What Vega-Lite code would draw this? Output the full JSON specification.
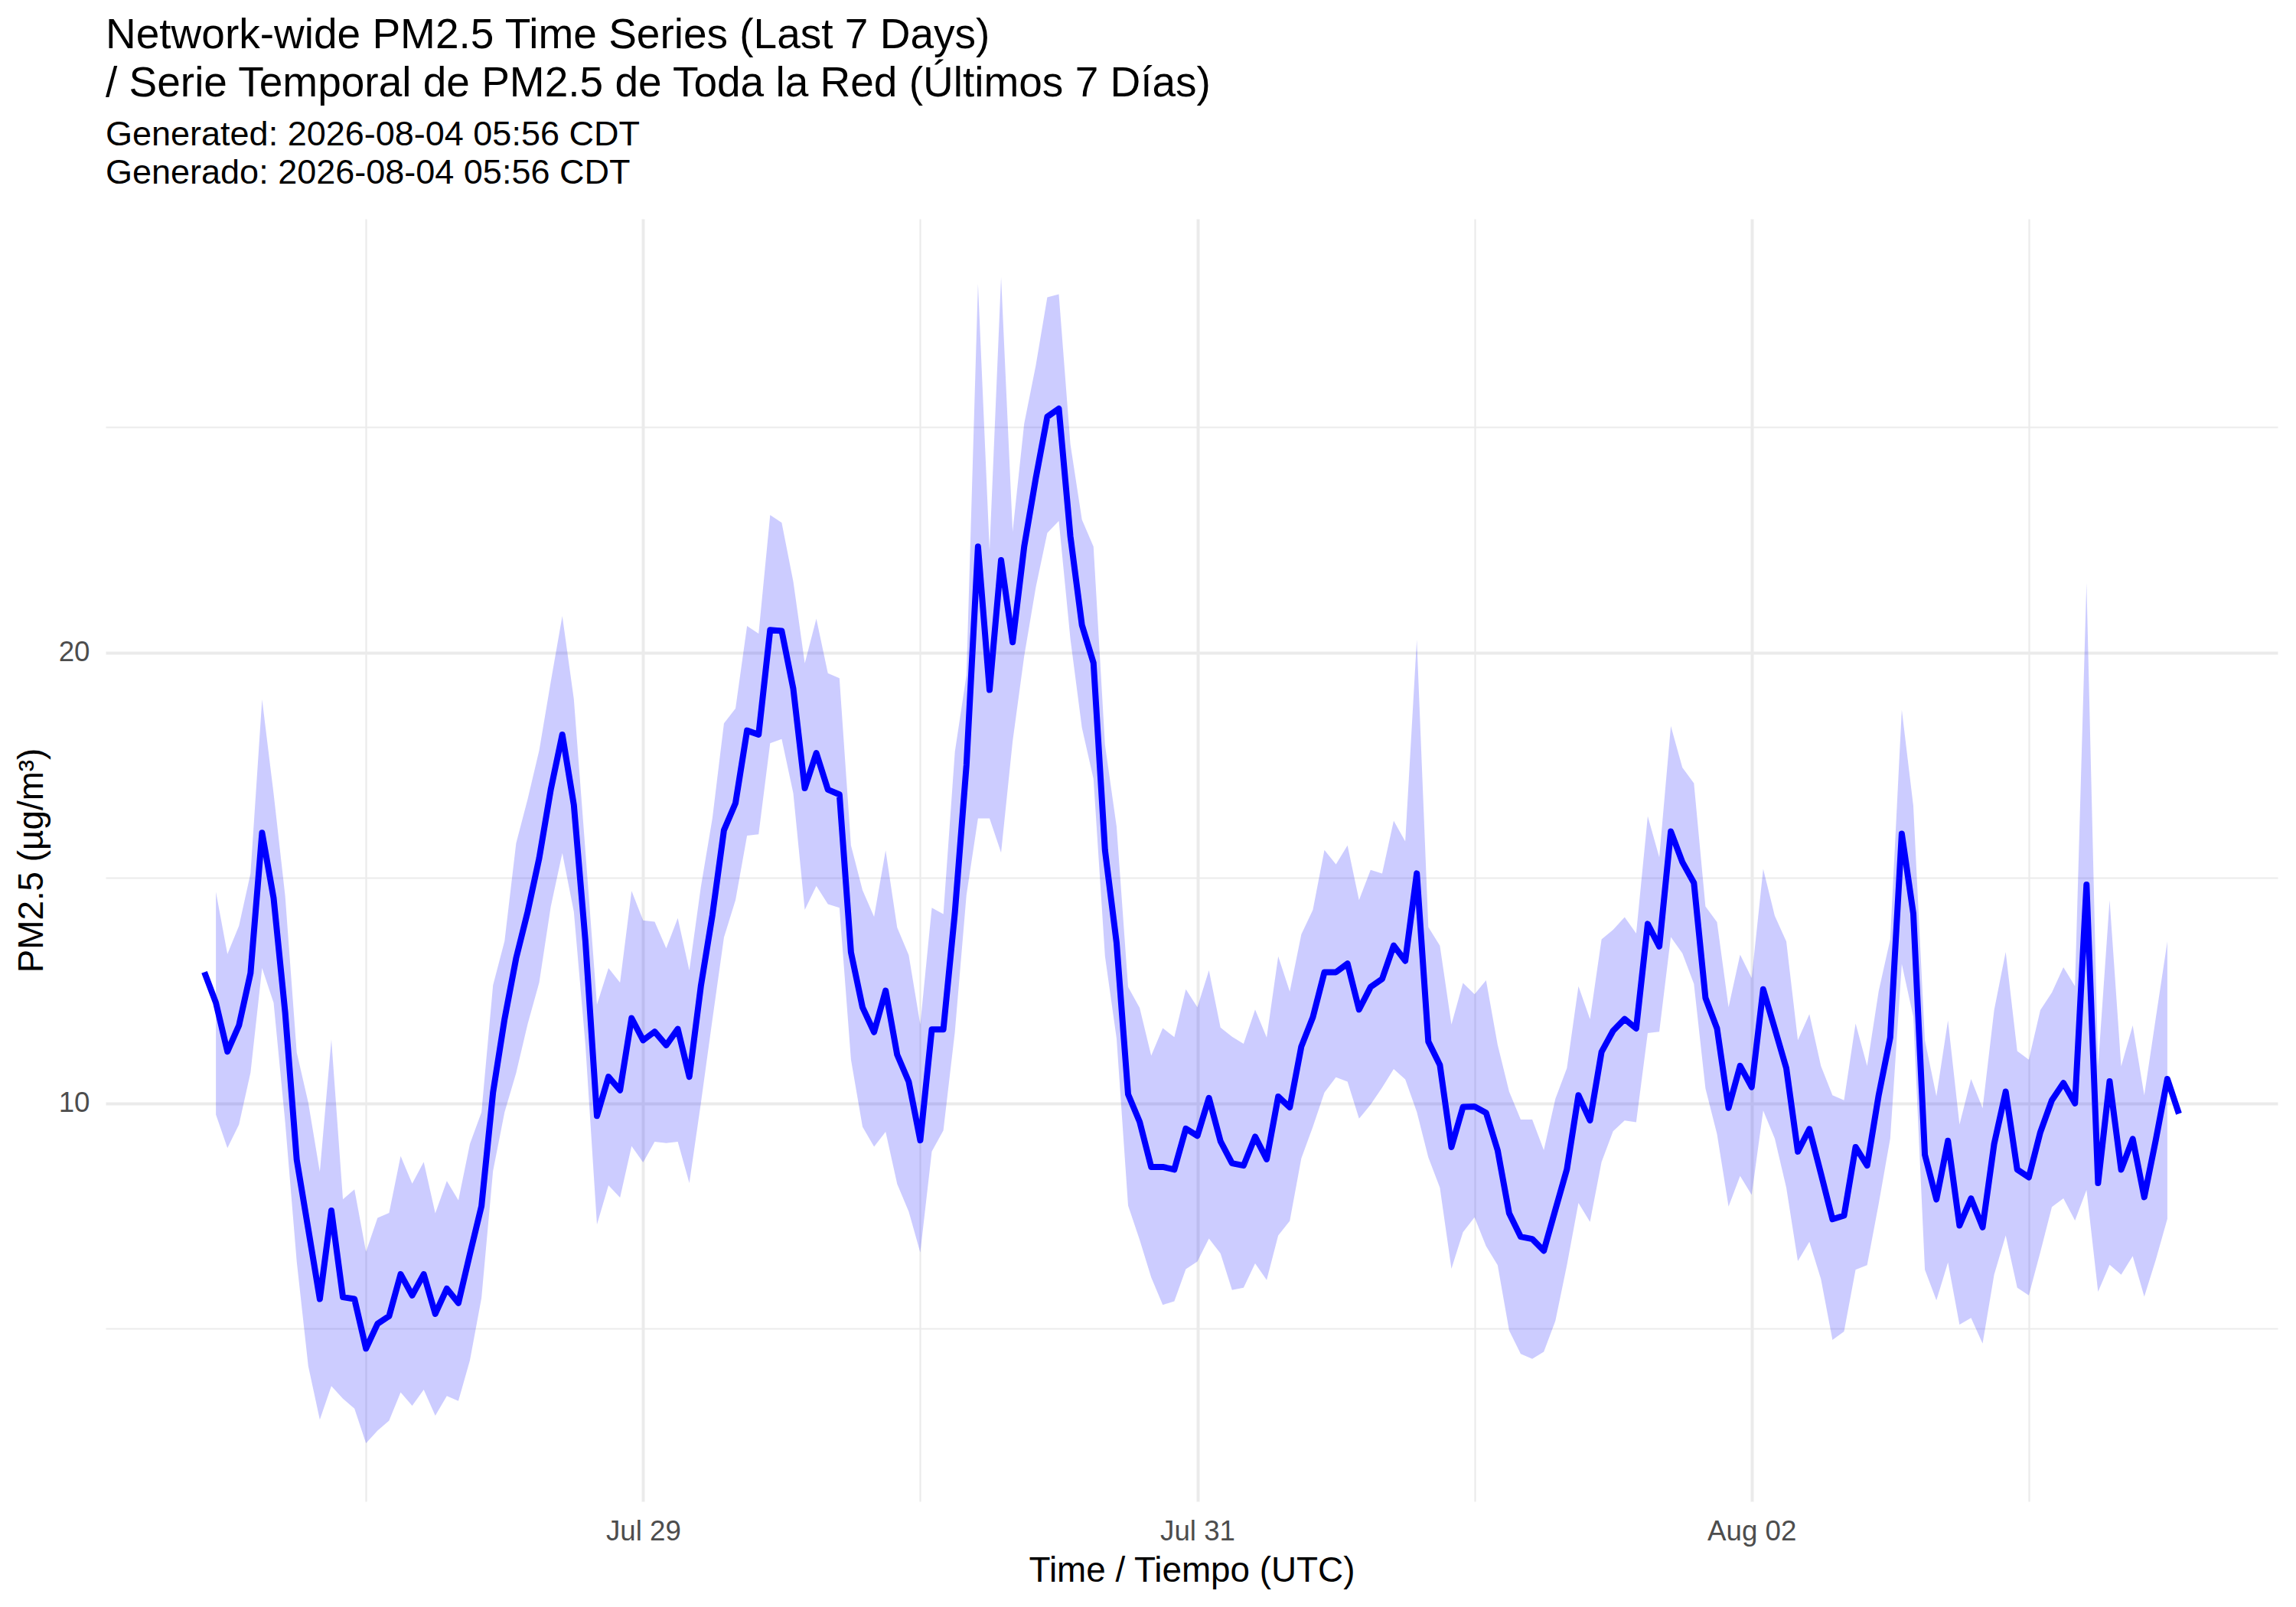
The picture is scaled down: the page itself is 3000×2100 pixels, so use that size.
{
  "$schema": "https://vega.github.io/schema/vega-lite/v6.json",
  "autosize": "none",
  "width": 2838,
  "height": 1676,
  "padding": {"left": 138, "top": 286, "right": 24, "bottom": 138},
  "background": "white",
  "title": {
    "text": ["Network-wide PM2.5 Time Series (Last 7 Days)", "/ Serie Temporal de PM2.5 de Toda la Red (Últimos 7 Días)"],
    "subtitle": ["Generated: 2026-08-04 05:56 CDT", "Generado: 2026-08-04 05:56 CDT"],
    "anchor": "start",
    "frame": "group",
    "font": "Liberation Sans",
    "fontSize": 55,
    "fontWeight": "normal",
    "lineHeight": 63,
    "color": "black",
    "subtitleFont": "Liberation Sans",
    "subtitleFontSize": 45,
    "subtitleLineHeight": 50,
    "subtitleColor": "black",
    "subtitlePadding": 16,
    "offset": 36
  },
  "config": {
    "view": {"stroke": null},
    "font": "Liberation Sans",
    "axis": {
      "domain": false,
      "ticks": false,
      "tickSize": 0,
      "gridColor": "#EBEBEB",
      "labelFont": "Liberation Sans",
      "labelFontSize": 36.7,
      "labelColor": "#4D4D4D",
      "labelPadding": 21,
      "titleFont": "Liberation Sans",
      "titleFontSize": 45.8,
      "titleFontWeight": "normal",
      "titleColor": "black"
    }
  },
  "data": {
    "values": [
      {"t": "2026-07-27T10:00:00Z", "pm": 12.91, "lo": null, "hi": null},
      {"t": "2026-07-27T11:00:00Z", "pm": 12.23, "lo": 9.75, "hi": 14.69},
      {"t": "2026-07-27T12:00:00Z", "pm": 11.15, "lo": 9.01, "hi": 13.31},
      {"t": "2026-07-27T13:00:00Z", "pm": 11.73, "lo": 9.53, "hi": 13.94},
      {"t": "2026-07-27T14:00:00Z", "pm": 12.89, "lo": 10.68, "hi": 15.1},
      {"t": "2026-07-27T15:00:00Z", "pm": 16.0, "lo": 13.0, "hi": 18.96},
      {"t": "2026-07-27T16:00:00Z", "pm": 14.55, "lo": 12.23, "hi": 16.87},
      {"t": "2026-07-27T17:00:00Z", "pm": 12.01, "lo": 9.58, "hi": 14.6},
      {"t": "2026-07-27T18:00:00Z", "pm": 8.75, "lo": 6.49, "hi": 11.13},
      {"t": "2026-07-27T19:00:00Z", "pm": 7.21, "lo": 4.17, "hi": 10.02},
      {"t": "2026-07-27T20:00:00Z", "pm": 5.66, "lo": 2.98, "hi": 8.48},
      {"t": "2026-07-27T21:00:00Z", "pm": 7.62, "lo": 3.73, "hi": 11.42},
      {"t": "2026-07-27T22:00:00Z", "pm": 5.70, "lo": 3.45, "hi": 7.87},
      {"t": "2026-07-27T23:00:00Z", "pm": 5.66, "lo": 3.23, "hi": 8.09},
      {"t": "2026-07-28T00:00:00Z", "pm": 4.56, "lo": 2.46, "hi": 6.71},
      {"t": "2026-07-28T01:00:00Z", "pm": 5.11, "lo": 2.74, "hi": 7.46},
      {"t": "2026-07-28T02:00:00Z", "pm": 5.28, "lo": 2.96, "hi": 7.57},
      {"t": "2026-07-28T03:00:00Z", "pm": 6.21, "lo": 3.59, "hi": 8.83},
      {"t": "2026-07-28T04:00:00Z", "pm": 5.74, "lo": 3.29, "hi": 8.22},
      {"t": "2026-07-28T05:00:00Z", "pm": 6.21, "lo": 3.65, "hi": 8.70},
      {"t": "2026-07-28T06:00:00Z", "pm": 5.33, "lo": 3.07, "hi": 7.56},
      {"t": "2026-07-28T07:00:00Z", "pm": 5.89, "lo": 3.51, "hi": 8.28},
      {"t": "2026-07-28T08:00:00Z", "pm": 5.57, "lo": 3.40, "hi": 7.85},
      {"t": "2026-07-28T09:00:00Z", "pm": 6.66, "lo": 4.30, "hi": 9.10},
      {"t": "2026-07-28T10:00:00Z", "pm": 7.72, "lo": 5.68, "hi": 9.80},
      {"t": "2026-07-28T11:00:00Z", "pm": 10.24, "lo": 8.50, "hi": 12.62},
      {"t": "2026-07-28T12:00:00Z", "pm": 11.87, "lo": 9.80, "hi": 13.60},
      {"t": "2026-07-28T13:00:00Z", "pm": 13.22, "lo": 10.67, "hi": 15.77},
      {"t": "2026-07-28T14:00:00Z", "pm": 14.25, "lo": 11.76, "hi": 16.75},
      {"t": "2026-07-28T15:00:00Z", "pm": 15.44, "lo": 12.68, "hi": 17.83},
      {"t": "2026-07-28T16:00:00Z", "pm": 16.96, "lo": 14.36, "hi": 19.35},
      {"t": "2026-07-28T17:00:00Z", "pm": 18.18, "lo": 15.55, "hi": 20.81},
      {"t": "2026-07-28T18:00:00Z", "pm": 16.62, "lo": 14.25, "hi": 18.97},
      {"t": "2026-07-28T19:00:00Z", "pm": 13.60, "lo": 11.30, "hi": 15.60},
      {"t": "2026-07-28T20:00:00Z", "pm": 9.72, "lo": 7.31, "hi": 12.19},
      {"t": "2026-07-28T21:00:00Z", "pm": 10.59, "lo": 8.18, "hi": 13.00},
      {"t": "2026-07-28T22:00:00Z", "pm": 10.29, "lo": 7.91, "hi": 12.68},
      {"t": "2026-07-28T23:00:00Z", "pm": 11.89, "lo": 9.05, "hi": 14.71},
      {"t": "2026-07-29T00:00:00Z", "pm": 11.40, "lo": 8.69, "hi": 14.06},
      {"t": "2026-07-29T01:00:00Z", "pm": 11.59, "lo": 9.15, "hi": 14.03},
      {"t": "2026-07-29T02:00:00Z", "pm": 11.29, "lo": 9.12, "hi": 13.44},
      {"t": "2026-07-29T03:00:00Z", "pm": 11.65, "lo": 9.15, "hi": 14.11},
      {"t": "2026-07-29T04:00:00Z", "pm": 10.59, "lo": 8.23, "hi": 12.95},
      {"t": "2026-07-29T05:00:00Z", "pm": 12.60, "lo": 10.00, "hi": 14.80},
      {"t": "2026-07-29T06:00:00Z", "pm": 14.18, "lo": 11.86, "hi": 16.33},
      {"t": "2026-07-29T07:00:00Z", "pm": 16.06, "lo": 13.68, "hi": 18.43},
      {"t": "2026-07-29T08:00:00Z", "pm": 16.66, "lo": 14.51, "hi": 18.76},
      {"t": "2026-07-29T09:00:00Z", "pm": 18.27, "lo": 15.94, "hi": 20.59},
      {"t": "2026-07-29T10:00:00Z", "pm": 18.18, "lo": 15.97, "hi": 20.42},
      {"t": "2026-07-29T11:00:00Z", "pm": 20.50, "lo": 17.99, "hi": 23.05},
      {"t": "2026-07-29T12:00:00Z", "pm": 20.48, "lo": 18.08, "hi": 22.88},
      {"t": "2026-07-29T13:00:00Z", "pm": 19.20, "lo": 16.88, "hi": 21.58},
      {"t": "2026-07-29T14:00:00Z", "pm": 16.99, "lo": 14.29, "hi": 19.76},
      {"t": "2026-07-29T15:00:00Z", "pm": 17.77, "lo": 14.82, "hi": 20.75},
      {"t": "2026-07-29T16:00:00Z", "pm": 16.96, "lo": 14.42, "hi": 19.54},
      {"t": "2026-07-29T17:00:00Z", "pm": 16.85, "lo": 14.34, "hi": 19.43},
      {"t": "2026-07-29T18:00:00Z", "pm": 13.35, "lo": 10.97, "hi": 15.72},
      {"t": "2026-07-29T19:00:00Z", "pm": 12.13, "lo": 9.48, "hi": 14.73},
      {"t": "2026-07-29T20:00:00Z", "pm": 11.58, "lo": 9.04, "hi": 14.14},
      {"t": "2026-07-29T21:00:00Z", "pm": 12.50, "lo": 9.37, "hi": 15.61},
      {"t": "2026-07-29T22:00:00Z", "pm": 11.08, "lo": 8.21, "hi": 13.90},
      {"t": "2026-07-29T23:00:00Z", "pm": 10.48, "lo": 7.60, "hi": 13.29},
      {"t": "2026-07-30T00:00:00Z", "pm": 9.18, "lo": 6.69, "hi": 11.75},
      {"t": "2026-07-30T01:00:00Z", "pm": 11.64, "lo": 8.93, "hi": 14.34},
      {"t": "2026-07-30T02:00:00Z", "pm": 11.64, "lo": 9.40, "hi": 14.20},
      {"t": "2026-07-30T03:00:00Z", "pm": 14.24, "lo": 11.59, "hi": 17.80},
      {"t": "2026-07-30T04:00:00Z", "pm": 17.50, "lo": 14.62, "hi": 19.50},
      {"t": "2026-07-30T05:00:00Z", "pm": 22.35, "lo": 16.32, "hi": 28.18},
      {"t": "2026-07-30T06:00:00Z", "pm": 19.17, "lo": 16.32, "hi": 22.27},
      {"t": "2026-07-30T07:00:00Z", "pm": 22.05, "lo": 15.56, "hi": 28.33},
      {"t": "2026-07-30T08:00:00Z", "pm": 20.23, "lo": 18.03, "hi": 22.68},
      {"t": "2026-07-30T09:00:00Z", "pm": 22.35, "lo": 19.92, "hi": 25.08},
      {"t": "2026-07-30T10:00:00Z", "pm": 23.86, "lo": 21.44, "hi": 26.36},
      {"t": "2026-07-30T11:00:00Z", "pm": 25.23, "lo": 22.65, "hi": 27.88},
      {"t": "2026-07-30T12:00:00Z", "pm": 25.41, "lo": 22.92, "hi": 27.95},
      {"t": "2026-07-30T13:00:00Z", "pm": 22.58, "lo": 20.30, "hi": 24.62},
      {"t": "2026-07-30T14:00:00Z", "pm": 20.61, "lo": 18.33, "hi": 22.95},
      {"t": "2026-07-30T15:00:00Z", "pm": 19.77, "lo": 17.20, "hi": 22.35},
      {"t": "2026-07-30T16:00:00Z", "pm": 15.61, "lo": 13.26, "hi": 17.95},
      {"t": "2026-07-30T17:00:00Z", "pm": 13.56, "lo": 11.44, "hi": 16.14},
      {"t": "2026-07-30T18:00:00Z", "pm": 10.20, "lo": 7.73, "hi": 12.58},
      {"t": "2026-07-30T19:00:00Z", "pm": 9.59, "lo": 6.97, "hi": 12.12},
      {"t": "2026-07-30T20:00:00Z", "pm": 8.59, "lo": 6.14, "hi": 11.06},
      {"t": "2026-07-30T21:00:00Z", "pm": 8.59, "lo": 5.53, "hi": 11.67},
      {"t": "2026-07-30T22:00:00Z", "pm": 8.53, "lo": 5.61, "hi": 11.47},
      {"t": "2026-07-30T23:00:00Z", "pm": 9.44, "lo": 6.32, "hi": 12.53},
      {"t": "2026-07-31T00:00:00Z", "pm": 9.28, "lo": 6.49, "hi": 12.13},
      {"t": "2026-07-31T01:00:00Z", "pm": 10.12, "lo": 7.00, "hi": 12.95},
      {"t": "2026-07-31T02:00:00Z", "pm": 9.16, "lo": 6.67, "hi": 11.68},
      {"t": "2026-07-31T03:00:00Z", "pm": 8.67, "lo": 5.86, "hi": 11.48},
      {"t": "2026-07-31T04:00:00Z", "pm": 8.62, "lo": 5.91, "hi": 11.32},
      {"t": "2026-07-31T05:00:00Z", "pm": 9.26, "lo": 6.45, "hi": 12.08},
      {"t": "2026-07-31T06:00:00Z", "pm": 8.76, "lo": 6.08, "hi": 11.46},
      {"t": "2026-07-31T07:00:00Z", "pm": 10.15, "lo": 7.07, "hi": 13.26},
      {"t": "2026-07-31T08:00:00Z", "pm": 9.91, "lo": 7.39, "hi": 12.48},
      {"t": "2026-07-31T09:00:00Z", "pm": 11.26, "lo": 8.78, "hi": 13.75},
      {"t": "2026-07-31T10:00:00Z", "pm": 11.91, "lo": 9.48, "hi": 14.29},
      {"t": "2026-07-31T11:00:00Z", "pm": 12.91, "lo": 10.24, "hi": 15.62},
      {"t": "2026-07-31T12:00:00Z", "pm": 12.91, "lo": 10.58, "hi": 15.30},
      {"t": "2026-07-31T13:00:00Z", "pm": 13.10, "lo": 10.48, "hi": 15.72},
      {"t": "2026-07-31T14:00:00Z", "pm": 12.08, "lo": 9.66, "hi": 14.51},
      {"t": "2026-07-31T15:00:00Z", "pm": 12.58, "lo": 9.97, "hi": 15.18},
      {"t": "2026-07-31T16:00:00Z", "pm": 12.76, "lo": 10.35, "hi": 15.10},
      {"t": "2026-07-31T17:00:00Z", "pm": 13.50, "lo": 10.76, "hi": 16.27},
      {"t": "2026-07-31T18:00:00Z", "pm": 13.16, "lo": 10.53, "hi": 15.81},
      {"t": "2026-07-31T19:00:00Z", "pm": 15.10, "lo": 9.81, "hi": 20.29},
      {"t": "2026-07-31T20:00:00Z", "pm": 11.37, "lo": 8.80, "hi": 13.91},
      {"t": "2026-07-31T21:00:00Z", "pm": 10.85, "lo": 8.13, "hi": 13.50},
      {"t": "2026-07-31T22:00:00Z", "pm": 9.03, "lo": 6.33, "hi": 11.75},
      {"t": "2026-07-31T23:00:00Z", "pm": 9.92, "lo": 7.14, "hi": 12.67},
      {"t": "2026-08-01T00:00:00Z", "pm": 9.93, "lo": 7.47, "hi": 12.42},
      {"t": "2026-08-01T01:00:00Z", "pm": 9.79, "lo": 6.83, "hi": 12.73},
      {"t": "2026-08-01T02:00:00Z", "pm": 8.96, "lo": 6.41, "hi": 11.30},
      {"t": "2026-08-01T03:00:00Z", "pm": 7.56, "lo": 4.96, "hi": 10.26},
      {"t": "2026-08-01T04:00:00Z", "pm": 7.04, "lo": 4.44, "hi": 9.64},
      {"t": "2026-08-01T05:00:00Z", "pm": 6.99, "lo": 4.33, "hi": 9.64},
      {"t": "2026-08-01T06:00:00Z", "pm": 6.73, "lo": 4.49, "hi": 8.96},
      {"t": "2026-08-01T07:00:00Z", "pm": 7.64, "lo": 5.17, "hi": 10.10},
      {"t": "2026-08-01T08:00:00Z", "pm": 8.54, "lo": 6.41, "hi": 10.78},
      {"t": "2026-08-01T09:00:00Z", "pm": 10.18, "lo": 7.79, "hi": 12.60},
      {"t": "2026-08-01T10:00:00Z", "pm": 9.62, "lo": 7.37, "hi": 11.87},
      {"t": "2026-08-01T11:00:00Z", "pm": 11.14, "lo": 8.70, "hi": 13.64},
      {"t": "2026-08-01T12:00:00Z", "pm": 11.61, "lo": 9.38, "hi": 13.85},
      {"t": "2026-08-01T13:00:00Z", "pm": 11.87, "lo": 9.62, "hi": 14.13},
      {"t": "2026-08-01T14:00:00Z", "pm": 11.66, "lo": 9.58, "hi": 13.77},
      {"t": "2026-08-01T15:00:00Z", "pm": 13.98, "lo": 11.56, "hi": 16.37},
      {"t": "2026-08-01T16:00:00Z", "pm": 13.48, "lo": 11.59, "hi": 15.46},
      {"t": "2026-08-01T17:00:00Z", "pm": 16.03, "lo": 13.69, "hi": 18.37},
      {"t": "2026-08-01T18:00:00Z", "pm": 15.35, "lo": 13.33, "hi": 17.45},
      {"t": "2026-08-01T19:00:00Z", "pm": 14.89, "lo": 12.65, "hi": 17.10},
      {"t": "2026-08-01T20:00:00Z", "pm": 12.34, "lo": 10.33, "hi": 14.37},
      {"t": "2026-08-01T21:00:00Z", "pm": 11.66, "lo": 9.32, "hi": 14.02},
      {"t": "2026-08-01T22:00:00Z", "pm": 9.90, "lo": 7.71, "hi": 12.13},
      {"t": "2026-08-01T23:00:00Z", "pm": 10.83, "lo": 8.39, "hi": 13.30},
      {"t": "2026-08-02T00:00:00Z", "pm": 10.36, "lo": 7.97, "hi": 12.78},
      {"t": "2026-08-02T01:00:00Z", "pm": 12.53, "lo": 9.84, "hi": 15.20},
      {"t": "2026-08-02T02:00:00Z", "pm": 11.66, "lo": 9.22, "hi": 14.16},
      {"t": "2026-08-02T03:00:00Z", "pm": 10.78, "lo": 8.13, "hi": 13.59},
      {"t": "2026-08-02T04:00:00Z", "pm": 8.93, "lo": 6.50, "hi": 11.40},
      {"t": "2026-08-02T05:00:00Z", "pm": 9.43, "lo": 6.93, "hi": 11.98},
      {"t": "2026-08-02T06:00:00Z", "pm": 8.44, "lo": 6.10, "hi": 10.83},
      {"t": "2026-08-02T07:00:00Z", "pm": 7.43, "lo": 4.75, "hi": 10.18},
      {"t": "2026-08-02T08:00:00Z", "pm": 7.51, "lo": 4.94, "hi": 10.07},
      {"t": "2026-08-02T09:00:00Z", "pm": 9.03, "lo": 6.31, "hi": 11.77},
      {"t": "2026-08-02T10:00:00Z", "pm": 8.62, "lo": 6.41, "hi": 10.83},
      {"t": "2026-08-02T11:00:00Z", "pm": 10.18, "lo": 7.77, "hi": 12.49},
      {"t": "2026-08-02T12:00:00Z", "pm": 11.46, "lo": 9.22, "hi": 13.64},
      {"t": "2026-08-02T13:00:00Z", "pm": 15.98, "lo": 13.09, "hi": 18.73},
      {"t": "2026-08-02T14:00:00Z", "pm": 14.21, "lo": 11.92, "hi": 16.60},
      {"t": "2026-08-02T15:00:00Z", "pm": 8.86, "lo": 6.31, "hi": 11.40},
      {"t": "2026-08-02T16:00:00Z", "pm": 7.87, "lo": 5.63, "hi": 10.16},
      {"t": "2026-08-02T17:00:00Z", "pm": 9.17, "lo": 6.47, "hi": 11.84},
      {"t": "2026-08-02T18:00:00Z", "pm": 7.29, "lo": 5.09, "hi": 9.53},
      {"t": "2026-08-02T19:00:00Z", "pm": 7.89, "lo": 5.24, "hi": 10.54},
      {"t": "2026-08-02T20:00:00Z", "pm": 7.25, "lo": 4.67, "hi": 9.89},
      {"t": "2026-08-02T21:00:00Z", "pm": 9.10, "lo": 6.20, "hi": 12.07},
      {"t": "2026-08-02T22:00:00Z", "pm": 10.26, "lo": 7.07, "hi": 13.36},
      {"t": "2026-08-02T23:00:00Z", "pm": 8.53, "lo": 5.91, "hi": 11.16},
      {"t": "2026-08-03T00:00:00Z", "pm": 8.36, "lo": 5.74, "hi": 10.97},
      {"t": "2026-08-03T01:00:00Z", "pm": 9.36, "lo": 6.70, "hi": 12.07},
      {"t": "2026-08-03T02:00:00Z", "pm": 10.07, "lo": 7.70, "hi": 12.46},
      {"t": "2026-08-03T03:00:00Z", "pm": 10.45, "lo": 7.89, "hi": 13.02},
      {"t": "2026-08-03T04:00:00Z", "pm": 10.00, "lo": 7.40, "hi": 12.60},
      {"t": "2026-08-03T05:00:00Z", "pm": 14.85, "lo": 8.08, "hi": 21.55},
      {"t": "2026-08-03T06:00:00Z", "pm": 8.23, "lo": 5.82, "hi": 10.82},
      {"t": "2026-08-03T07:00:00Z", "pm": 10.49, "lo": 6.42, "hi": 14.51},
      {"t": "2026-08-03T08:00:00Z", "pm": 8.53, "lo": 6.20, "hi": 10.82},
      {"t": "2026-08-03T09:00:00Z", "pm": 9.21, "lo": 6.61, "hi": 11.73},
      {"t": "2026-08-03T10:00:00Z", "pm": 7.92, "lo": 5.71, "hi": 10.18},
      {"t": "2026-08-03T11:00:00Z", "pm": 9.19, "lo": 6.53, "hi": 11.90},
      {"t": "2026-08-03T12:00:00Z", "pm": 10.54, "lo": 7.44, "hi": 13.59},
      {"t": "2026-08-03T13:00:00Z", "pm": 9.77, "lo": null, "hi": null}
    ]
  },
  "encoding": {
    "x": {
      "field": "t",
      "type": "temporal",
      "title": "Time / Tiempo (UTC)",
      "scale": {
        "type": "utc",
        "nice": false,
        "domain": [
          {"year": 2026, "month": "jul", "date": 27, "hours": 1, "minutes": 27, "utc": true},
          {"year": 2026, "month": "aug", "date": 3, "hours": 21, "minutes": 33, "utc": true}
        ]
      },
      "axis": {
        "values": [
          {"year": 2026, "month": "jul", "date": 28, "utc": true},
          {"year": 2026, "month": "jul", "date": 29, "utc": true},
          {"year": 2026, "month": "jul", "date": 30, "utc": true},
          {"year": 2026, "month": "jul", "date": 31, "utc": true},
          {"year": 2026, "month": "aug", "date": 1, "utc": true},
          {"year": 2026, "month": "aug", "date": 2, "utc": true},
          {"year": 2026, "month": "aug", "date": 3, "utc": true}
        ],
        "labelExpr": "indexof(['Jul 29', 'Jul 31', 'Aug 02'], utcFormat(datum.value, '%b %d')) >= 0 ? utcFormat(datum.value, '%b %d') : ''",
        "gridWidth": {
          "condition": {"test": "indexof(['Jul 29', 'Jul 31', 'Aug 02'], utcFormat(datum.value, '%b %d')) >= 0", "value": 4},
          "value": 2.2
        },
        "titleY": 104,
        "titleBaseline": "alphabetic"
      }
    }
  },
  "layer": [
    {
      "mark": {"type": "area", "color": "#0000FF", "opacity": 0.2},
      "encoding": {
        "y": {
          "field": "hi",
          "type": "quantitative",
          "title": "PM2.5 (µg/m³)",
          "scale": {"domain": [1.17, 29.62], "nice": false, "zero": false},
          "axis": {
            "values": [5, 10, 15, 20, 25],
            "labelExpr": "datum.value % 10 == 0 ? format(datum.value, 'd') : ''",
            "gridWidth": {"condition": {"test": "datum.value % 10 == 0", "value": 4}, "value": 2.2},
            "titleX": -83,
            "titleBaseline": "alphabetic"
          }
        },
        "y2": {"field": "lo"}
      }
    },
    {
      "mark": {"type": "line", "color": "#0000FF", "strokeWidth": 8, "strokeJoin": "round"},
      "encoding": {
        "y": {"field": "pm", "type": "quantitative"}
      }
    }
  ]
}
